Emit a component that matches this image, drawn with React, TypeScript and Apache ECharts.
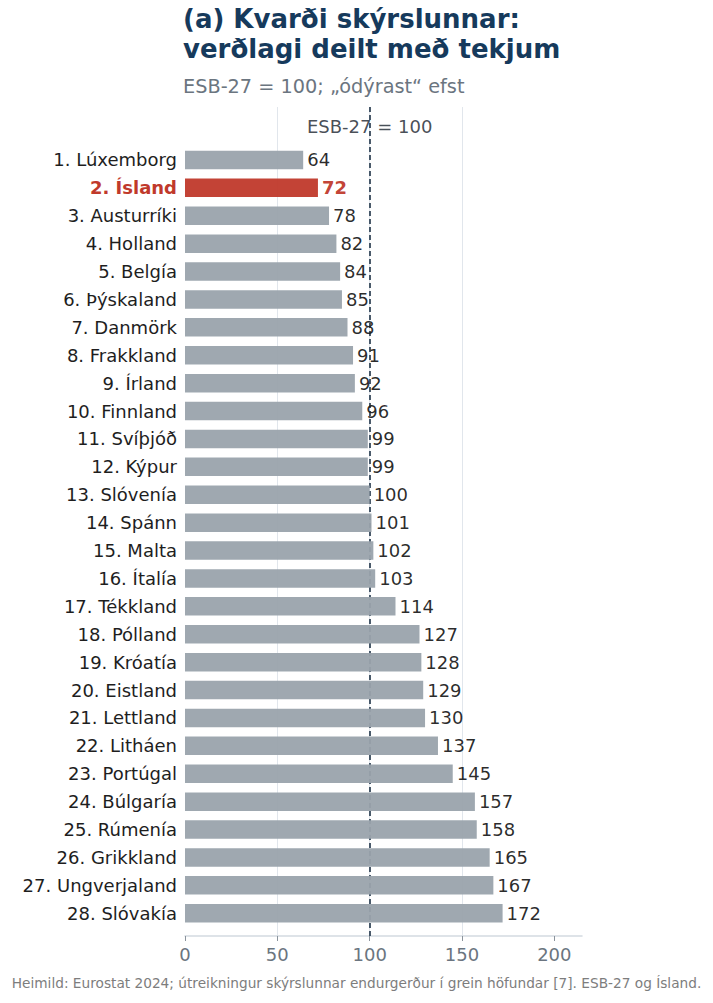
import React, { useEffect, useRef } from 'react';
import * as echarts from 'echarts';

const countries = ['Lúxemborg', 'Ísland', 'Austurríki', 'Holland', 'Belgía', 'Þýskaland', 'Danmörk', 'Frakkland', 'Írland', 'Finnland', 'Svíþjóð', 'Kýpur', 'Slóvenía', 'Spánn', 'Malta', 'Ítalía', 'Tékkland', 'Pólland', 'Króatía', 'Eistland', 'Lettland', 'Litháen', 'Portúgal', 'Búlgaría', 'Rúmenía', 'Grikkland', 'Ungverjaland', 'Slóvakía'];
const values = [64, 72, 78, 82, 84, 85, 88, 91, 92, 96, 99, 99, 100, 101, 102, 103, 114, 127, 128, 129, 130, 137, 145, 157, 158, 165, 167, 172];
const highlight = 'Ísland';
const xTicks = [0, 50, 100, 150, 200];
const referenceValue = 100;
const referenceLabel = 'ESB-27 = 100';
const titleText = '(a) Kvarði skýrslunnar:\nverðlagi deilt með tekjum';
const subtitleText = 'ESB-27 = 100; „ódýrast“ efst';
const footerText = 'Heimild: Eurostat 2024; útreikningur skýrslunnar endurgerður í grein höfundar [7]. ESB-27 og Ísland.';

const FONT = '"DejaVu Sans", sans-serif';
const GREY_BAR = '#9aa3ac';
const RED = '#c0392b';
const NAVY = '#163a5c';

export default function App() {
  const ref = useRef<HTMLDivElement>(null);
  useEffect(() => {
    document.body.style.margin = '0';
    if (!ref.current) return;
    const chart = echarts.init(ref.current, undefined, { renderer: 'svg' });
    const labels = countries.map((c, i) => `${i + 1}. ${c}`);
    const left = 185;
    const width = 397;
    const option: any = {
      animation: false,
      backgroundColor: '#ffffff',
      textStyle: { fontFamily: FONT },
      title: [
        {
          text: titleText,
          subtext: subtitleText,
          left: left - 2,
          top: 4,
          itemGap: 10,
          textStyle: { fontFamily: FONT, fontSize: 26, fontWeight: 'bold', color: NAVY, lineHeight: 30 },
          subtextStyle: { fontFamily: FONT, fontSize: 19.3, color: '#6b7580', lineHeight: 24 },
          padding: 0,
        },
        {
          text: footerText,
          left: 'center',
          top: 976,
          padding: 0,
          textStyle: { fontFamily: FONT, fontSize: 13.7, fontWeight: 'normal', color: '#7d7d7d' },
        },
      ],
      grid: [
        { left, width, top: 107, height: 829, containLabel: false },
        { left, width, top: 146, height: 781.2, containLabel: false },
      ],
      xAxis: [
        {
          gridIndex: 0,
          type: 'value',
          min: 0,
          max: 215,
          interval: 50,
          axisLine: { show: true, lineStyle: { color: '#d3dae1', width: 1.5 } },
          axisTick: { show: true, length: 5, customValues: xTicks, lineStyle: { color: '#8a939c' } },
          axisLabel: {
            customValues: xTicks,
            formatter: (v: number) => (xTicks.includes(v) ? String(v) : ''),
            fontFamily: FONT,
            fontSize: 18,
            color: '#6b7580',
            margin: 9,
          },
          splitLine: { show: true, showMinLine: false, showMaxLine: false, lineStyle: { color: '#e1e6ec', width: 1 } },
        },
        {
          gridIndex: 1,
          type: 'value',
          min: 0,
          max: 215,
          show: false,
          splitLine: { show: false },
        },
      ],
      yAxis: [
        { gridIndex: 0, type: 'value', min: 0, max: 1, show: false, splitLine: { show: false } },
        {
          gridIndex: 1,
          type: 'category',
          inverse: true,
          data: labels,
          axisLine: { show: false },
          axisTick: { show: false },
          splitLine: { show: false },
          axisLabel: {
            fontFamily: FONT,
            fontSize: 18,
            color: '#1e1e1e',
            margin: 8,
            formatter: (v: string, i: number) => (countries[i] === highlight ? `{hl|${v}}` : v),
            rich: { hl: { fontFamily: FONT, fontSize: 18, fontWeight: 'bold', color: RED } },
          },
        },
      ],
      series: [
        {
          type: 'scatter',
          xAxisIndex: 0,
          yAxisIndex: 0,
          symbolSize: 0,
          silent: true,
          z: 1,
          data: [[referenceValue, 0.976]],
          label: {
            show: true,
            position: 'inside',
            formatter: referenceLabel,
            fontFamily: FONT,
            fontSize: 18,
            color: '#17212b',
          },
          markLine: {
            silent: true,
            symbol: ['none', 'none'],
            z: 1,
            label: { show: false },
            lineStyle: { type: [5, 3], color: '#1f3347', width: 1.6 },
            data: [{ xAxis: referenceValue }],
          },
        },
        {
          type: 'bar',
          xAxisIndex: 1,
          yAxisIndex: 1,
          barWidth: 18.5,
          z: 3,
          data: values.map((v, i) => {
            const hl = countries[i] === highlight;
            return {
              value: v,
              itemStyle: { color: hl ? RED : GREY_BAR, opacity: 0.95 },
              label: hl ? { color: RED, fontWeight: 'bold' } : undefined,
            };
          }),
          label: {
            show: true,
            position: 'right',
            distance: 4,
            fontFamily: FONT,
            fontSize: 18,
            color: '#1e1e1e',
          },
        },
      ],
    };
    chart.setOption(option);
    return () => chart.dispose();
  }, []);
  return <div ref={ref} style={{ width: 713, height: 1003 }} />;
}
